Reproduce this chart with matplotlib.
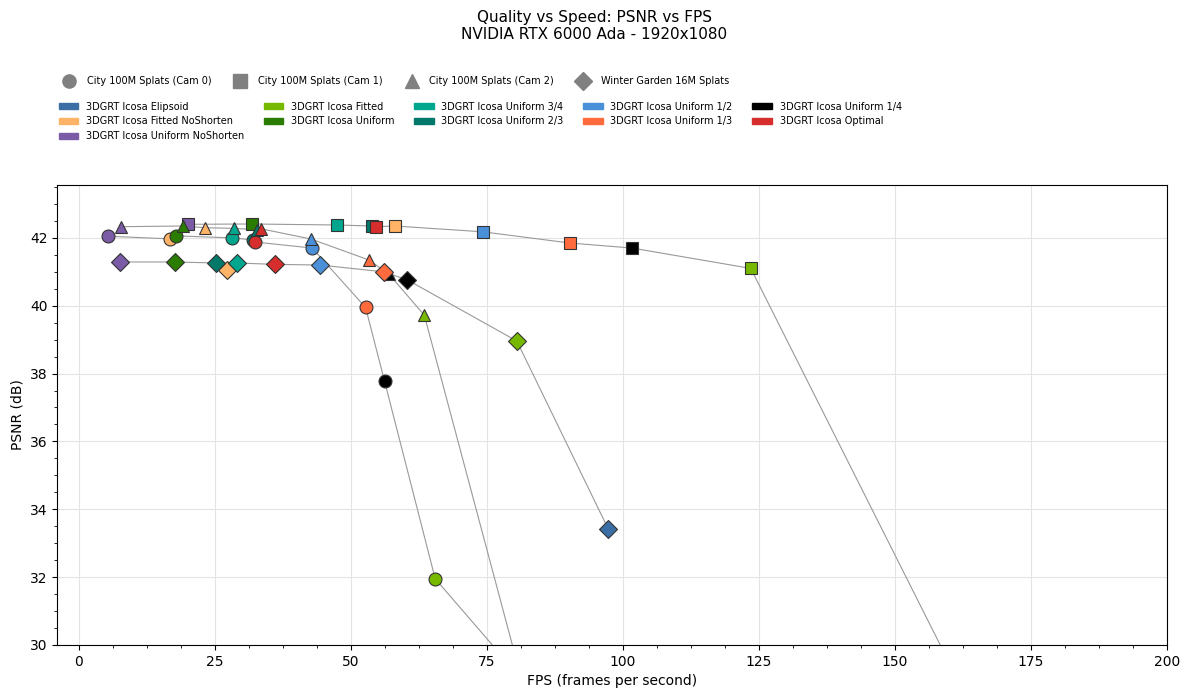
import numpy as np
import matplotlib
matplotlib.use("Agg")
from matplotlib import pyplot as plt
from matplotlib.lines import Line2D
from matplotlib.patches import Patch
from matplotlib.ticker import AutoMinorLocator

# metodos (orden de la leyenda)
methods = ["3DGRT Icosa Elipsoid", "3DGRT Icosa Fitted NoShorten", "3DGRT Icosa Uniform NoShorten",
           "3DGRT Icosa Fitted", "3DGRT Icosa Uniform",
           "3DGRT Icosa Uniform 3/4", "3DGRT Icosa Uniform 2/3",
           "3DGRT Icosa Uniform 1/2", "3DGRT Icosa Uniform 1/3",
           "3DGRT Icosa Uniform 1/4", "3DGRT Icosa Optimal"]
colors = ["#3a6ea5", "#ffb366", "#7b5aa6",
          "#76b900", "#2a7d00",
          "#00a78e", "#00796b",
          "#4a90d9", "#ff6b3d",
          "#000000", "#d62d2d"]

scenes = ["City 100M Splats (Cam 0)", "City 100M Splats (Cam 1)",
          "City 100M Splats (Cam 2)", "Winter Garden 16M Splats"]
markers = ["o", "s", "^", "D"]

# FPS y PSNR por escena, en el orden de "methods"
fps_cam0 = [90.0, 16.8, 5.3, 65.5, 17.9, 28.2, 32.0, 42.9, 52.7, 56.2, 32.3]
psnr_cam0 = [27.4, 41.97, 42.05, 31.95, 42.06, 42.0, 41.94, 41.7, 39.95, 37.77, 41.88]

fps_cam1 = [190.0, 58.1, 20.1, 123.5, 31.8, 47.4, 53.9, 74.2, 90.2, 101.7, 54.7]
psnr_cam1 = [19.9, 42.35, 42.4, 41.1, 42.41, 42.38, 42.35, 42.18, 41.85, 41.7, 42.33]

fps_cam2 = [90.0, 23.2, 7.8, 63.5, 19.1, 28.6, 32.8, 42.6, 53.3, 57.0, 33.4]
psnr_cam2 = [23.8, 42.3, 42.33, 39.72, 42.35, 42.28, 42.24, 41.97, 41.35, 40.93, 42.27]

fps_wg = [97.3, 27.3, 7.5, 80.5, 17.6, 29.0, 25.3, 44.3, 56.0, 60.4, 36.0]
psnr_wg = [33.42, 41.05, 41.29, 38.96, 41.29, 41.26, 41.26, 41.2, 41.0, 40.76, 41.22]

all_fps = [fps_cam0, fps_cam1, fps_cam2, fps_wg]
all_psnr = [psnr_cam0, psnr_cam1, psnr_cam2, psnr_wg]

fig = plt.figure(figsize=(11.89, 6.98), dpi=100)
ax = fig.add_axes([0.048, 0.076, 0.9335, 0.659])

for s in range(len(scenes)):
    f = np.array(all_fps[s])
    p = np.array(all_psnr[s])
    orden = np.argsort(f)
    ax.plot(f[orden], p[orden], color="#999999", lw=0.8, zorder=2)
    for m in range(len(methods)):
        ax.plot(f[m], p[m], marker=markers[s], ls="none", color=colors[m],
                markersize=9.3, markeredgecolor="#333333", markeredgewidth=0.8, zorder=3)

ax.set_xlim(-4, 200)
ax.set_ylim(30, 43.56)
ax.xaxis.set_minor_locator(AutoMinorLocator(4))
ax.yaxis.set_minor_locator(AutoMinorLocator(4))
ax.grid(True, which="major", color="#e3e3e3", lw=0.8)
ax.set_axisbelow(True)
ax.set_xlabel("FPS (frames per second)")
ax.set_ylabel("PSNR (dB)")

fig.suptitle("Quality vs Speed: PSNR vs FPS\nNVIDIA RTX 6000 Ada - 1920x1080", fontsize=11, y=0.986)

# leyendas
h_scene = [Line2D([], [], marker=markers[i], ls="none", color="gray", markersize=9.5, label=scenes[i])
           for i in range(len(scenes))]
h_meth = [Patch(color=colors[i], label=methods[i]) for i in range(len(methods))]

fig.legend(handles=h_scene, loc="upper left", bbox_to_anchor=(0.0425, 0.9035), ncol=4,
           frameon=False, fontsize=7)
fig.legend(handles=h_meth, loc="upper left", bbox_to_anchor=(0.042, 0.867), ncol=5,
           frameon=False, fontsize=7, handlelength=2, handleheight=0.6,
           labelspacing=0.5, columnspacing=2.02)

fig.savefig("out.png", dpi=100)
